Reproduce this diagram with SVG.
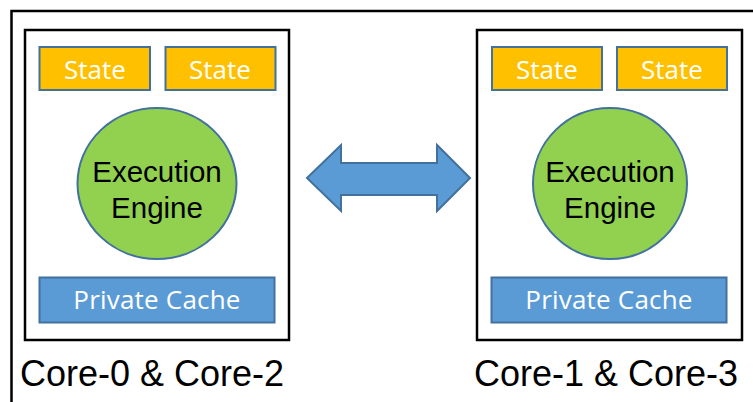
<svg xmlns="http://www.w3.org/2000/svg" width="753" height="402" viewBox="0 0 753 402">
  <style>
    .frame { fill: none; stroke: #000; stroke-width: 2.5; }
    .core { fill: #fff; stroke: #000; stroke-width: 2.5; }
    .state { fill: #ffc000; stroke: #41719c; stroke-width: 2; }
    .cache { fill: #5b9bd5; stroke: #41719c; stroke-width: 2; }
    .engine { fill: #92d050; stroke: #41719c; stroke-width: 2; }
    .arrow { fill: #5b9bd5; stroke: #41719c; stroke-width: 2; }
    .box-label { font-family: "Open Sans", "Noto Sans", sans-serif; font-size: 26px; fill: #fff; text-anchor: middle; }
    .wide { letter-spacing: 0.2px; }
    .engine-label { font-family: "Liberation Sans", Arial, sans-serif; font-size: 29.5px; fill: #000; text-anchor: middle; }
    .core-label { font-family: "Liberation Sans", Arial, sans-serif; font-size: 36px; fill: #000; }
  </style>

  <!-- enclosing frame (open on right and bottom) -->
  <path class="frame" d="M11.5,402 V11 H753"/>

  <!-- left core pair -->
  <g id="core-0-2">
    <rect class="core" x="25" y="30" width="264" height="310"/>
    <g id="core-0-2-state-a">
      <rect class="state" x="39.5" y="47" width="110.5" height="43"/>
      <text class="box-label" x="95" y="79">State</text>
    </g>
    <g id="core-0-2-state-b">
      <rect class="state" x="165.5" y="47" width="110" height="43"/>
      <text class="box-label" x="220" y="79">State</text>
    </g>
    <g id="core-0-2-engine">
      <ellipse class="engine" cx="157" cy="183.5" rx="79.5" ry="75.5"/>
      <text class="engine-label" x="157" y="182">Execution</text>
      <text class="engine-label" x="157" y="218">Engine</text>
    </g>
    <g id="core-0-2-cache">
      <rect class="cache" x="39.5" y="277.5" width="235" height="45"/>
      <text class="box-label wide" x="157" y="309">Private Cache</text>
    </g>
    <text class="core-label" x="20" y="386">Core-0 &amp; Core-2</text>
  </g>

  <!-- right core pair -->
  <g id="core-1-3">
    <rect class="core" x="477" y="30" width="265" height="310"/>
    <g id="core-1-3-state-a">
      <rect class="state" x="492" y="47" width="110" height="43"/>
      <text class="box-label" x="547" y="79">State</text>
    </g>
    <g id="core-1-3-state-b">
      <rect class="state" x="617" y="47" width="110" height="43"/>
      <text class="box-label" x="672" y="79">State</text>
    </g>
    <g id="core-1-3-engine">
      <ellipse class="engine" cx="610" cy="183.5" rx="77" ry="75.5"/>
      <text class="engine-label" x="610" y="182">Execution</text>
      <text class="engine-label" x="610" y="218">Engine</text>
    </g>
    <g id="core-1-3-cache">
      <rect class="cache" x="491.5" y="277.5" width="235" height="45"/>
      <text class="box-label wide" x="609" y="309">Private Cache</text>
    </g>
    <text class="core-label" x="474" y="386">Core-1 &amp; Core-3</text>
  </g>

  <!-- connectors -->
  <g id="connectors">
    <path class="arrow" d="M307,178 L341,145 L341,163 L437,163 L437,145 L470,178 L437,211 L437,195 L341,195 L341,211 Z"/>
  </g>
</svg>
